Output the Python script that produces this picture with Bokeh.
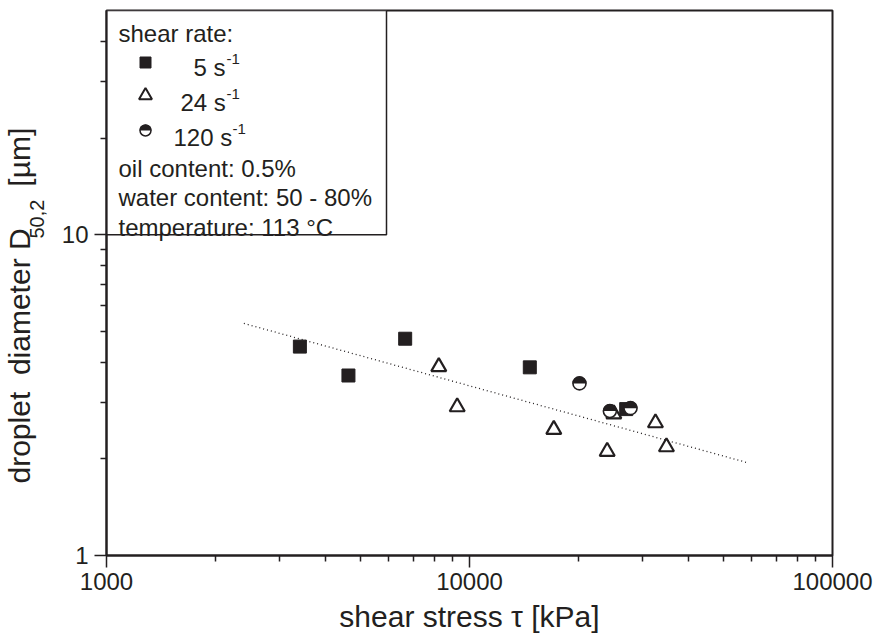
import numpy as np
from bokeh.plotting import figure
from bokeh.models import FixedTicker, PrintfTickFormatter, Label, BoxAnnotation, Title
from bokeh.embed import file_html
from bokeh.resources import INLINE

INK = "#231f20"
FONT = "Liberation Sans"
NBSP = "\u00a0"

# shear stress tau [kPa] and droplet diameter D50,2 [um] for each shear rate
stress_5 = [3410, 4640, 6650, 14660, 27020]
d50_5 = [4.48, 3.64, 4.74, 3.86, 2.86]

stress_24 = [8230, 9250, 17070, 23950, 24980, 32530, 34880]
d50_24 = [3.875, 2.905, 2.47, 2.11, 2.76, 2.59, 2.18]

stress_120 = [20090, 24360, 27770]
d50_120 = [3.44, 2.82, 2.88]

# power-law trend line (end points)
fit_stress = [2390, 58000]
fit_d50 = [5.29, 1.95]

x_major = [1000, 10000, 100000]
y_major = [1, 10]
x_minor = [m * d for d in (1000, 10000) for m in range(2, 10)]
y_minor = [m * d for d in (1, 10) for m in range(2, 10) if m * d < 50]

X_LO, X_HI = 1000, 100000
Y_LO, Y_HI = 1, 50
FRAME_W, FRAME_H = 726, 545
LEFT, TOP = 106, 10


def from_frame(px, py):
    """Data coordinates of a point given in pixels from the frame's top-left corner."""
    lx0, lx1 = np.log10(X_LO), np.log10(X_HI)
    ly0, ly1 = np.log10(Y_LO), np.log10(Y_HI)
    return (10 ** (lx0 + px / FRAME_W * (lx1 - lx0)),
            10 ** (ly1 - py / FRAME_H * (ly1 - ly0)))


p = figure(x_axis_type="log", y_axis_type="log",
           x_range=(X_LO, X_HI), y_range=(Y_LO, Y_HI),
           frame_width=FRAME_W, frame_height=FRAME_H,
           min_border_left=LEFT, min_border_right=44,
           min_border_top=TOP, min_border_bottom=86,
           output_backend="svg", toolbar_location=None,
           background_fill_color="white", border_fill_color="white")

p.grid.visible = False
p.outline_line_color = INK
p.outline_line_width = 2

for ax, major, minor in ((p.xaxis[0], x_major, x_minor), (p.yaxis[0], y_major, y_minor)):
    ax.ticker = FixedTicker(ticks=major, minor_ticks=minor)
    ax.formatter = PrintfTickFormatter(format="%d")
    ax.axis_line_color = INK
    ax.axis_line_width = 2
    ax.major_tick_line_color = INK
    ax.major_tick_line_width = 1.5
    ax.minor_tick_line_color = INK
    ax.minor_tick_line_width = 1.5
    ax.major_tick_in = 0
    ax.major_tick_out = 12
    ax.minor_tick_in = 0
    ax.minor_tick_out = 6
    ax.major_label_text_font = FONT
    ax.major_label_text_font_size = "24px"
    ax.major_label_text_color = INK
    ax.axis_label_text_font = FONT
    ax.axis_label_text_font_style = "normal"
    ax.axis_label_text_color = INK
p.xaxis[0].major_label_standoff = 5
p.yaxis[0].major_label_standoff = 6

# x axis title
xa = p.xaxis[0]
xa.axis_label = "shear stress \u03c4 [kPa]"
xa.axis_label_text_font_size = "30px"
xa.axis_label_standoff = 7

# y axis title: the subscript rides on the axis label, the rest is a side title
ya = p.yaxis[0]
ya.axis_label = NBSP * 23 + "50,2"
ya.axis_label_text_font_size = "20px"
ya.axis_label_standoff = 11

p.add_layout(Title(text="droplet" + NBSP + " diameter D" + NBSP * 5 + "[\u00b5m]",
                   align="left", offset=72, standoff=-27,
                   text_font=FONT, text_font_size="30px", text_font_style="normal",
                   text_color=INK), "left")

# legend frame
bx_right, _ = from_frame(280, 0)
p.add_layout(BoxAnnotation(left=X_LO, right=bx_right, bottom=10, top=Y_HI,
                           fill_color="white", fill_alpha=1.0,
                           line_color=INK, line_width=1.5, line_alpha=1.0,
                           level="underlay"))

# trend line
p.line(fit_stress, fit_d50, line_color=INK, line_width=1.3, line_dash="1 3")

# data
p.scatter(stress_5, d50_5, marker="square", size=13,
          fill_color=INK, line_color=INK, line_width=1)
p.scatter(stress_24, d50_24, marker="triangle", size=15,
          fill_color="white", line_color=INK, line_width=2.2)
p.scatter(stress_120, d50_120, marker="circle", size=13,
          fill_color="white", line_color=INK, line_width=1.6)
p.wedge(stress_120, d50_120, radius=7, radius_units="screen",
        start_angle=0, end_angle=np.pi, fill_color=INK, line_color=None)

# legend sample markers
lx, ly_sq = from_frame(39, 52)
_, ly_tri = from_frame(39, 85)
_, ly_cir = from_frame(39, 120)
p.scatter([lx], [ly_sq], marker="square", size=11, fill_color=INK, line_color=INK, line_width=1)
p.scatter([lx], [ly_tri], marker="triangle", size=13, fill_color="white", line_color=INK, line_width=2)
p.scatter([lx], [ly_cir], marker="circle", size=11, fill_color="white", line_color=INK, line_width=1.5)
p.wedge([lx], [ly_cir], radius=6, radius_units="screen",
        start_angle=0, end_angle=np.pi, fill_color=INK, line_color=None)


def frame_label(text, sx, sy, size=24, **kw):
    """Legend text placed at canvas pixel (sx, sy), given relative to the frame."""
    p.add_layout(Label(x=sx - LEFT, y=(TOP + FRAME_H) - sy,
                       x_units="screen", y_units="screen",
                       text=text, text_font=FONT, text_font_size=f"{size}px",
                       text_color=INK, text_baseline="alphabetic", **kw))


legend_rows = [("shear rate:", 118, 33),
               ("5 s", 193, 67),
               ("24 s", 180, 102),
               ("120 s", 173, 137),
               ("oil content: 0.5%", 118, 168),
               ("water content: 50 - 80%", 118, 197),
               ("temperature: 113 °C", 118, 227)]
for text, sx, sy in legend_rows:
    frame_label(text, sx, sy)
for sx, sy in ((226, 58), (226, 93), (232, 128)):
    frame_label("-1", sx, sy, size=15)

open("out.html", "w").write(file_html(p, INLINE))
